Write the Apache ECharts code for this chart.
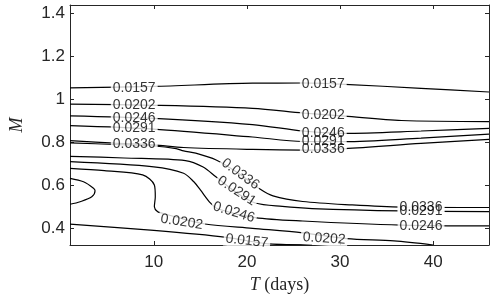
<!DOCTYPE html>
<html>
<head>
<meta charset="utf-8">
<script src="https://cdn.jsdelivr.net/npm/echarts@6/dist/echarts.min.js"></script>
<style>html,body{margin:0;padding:0;background:#fff}#c{width:500px;height:300px}</style>
</head>
<body>
<div id="c"></div>
<script>
// ---- data (T in days, M) ----
var xTicks = [10, 20, 30, 40];
var yTicks = [0.4, 0.6, 0.8, 1, 1.2, 1.4];

var c0157Upper = [[1,1.053],[10,1.060],[20.6,1.075],[26,1.076],[30.5,1.070],[38.7,1.051],[46,1.034]];
var c0202Upper = [[1,0.977],[10,0.972],[20.6,0.958],[26,0.936],[30.5,0.921],[36.6,0.901],[46,0.896]];
var c0246Upper = [[1,0.923],[10,0.911],[20.6,0.882],[26,0.852],[30.5,0.841],[38.7,0.852],[46,0.864]];
var c0291Upper = [[1,0.877],[10,0.861],[20.6,0.824],[26,0.803],[30.5,0.802],[38.7,0.819],[46,0.837]];
var c0336Upper = [[1,0.807],[5.8,0.795],[10,0.787],[13.2,0.775],[20.6,0.766],[26,0.763],[30.5,0.770],[38.7,0.794],[46,0.813]];
var c0336Lower = [[1,0.797],[5.8,0.789],[10,0.782],[12.4,0.770],[13.2,0.759],[14.5,0.749],[16.7,0.717],[19.05,0.656],[21.4,0.581],[22.8,0.549],[26,0.523],[31.3,0.507],[36.6,0.497],[46,0.495]];
var c0291Lower = [[1,0.734],[6.8,0.726],[13.4,0.714],[15.3,0.684],[16.7,0.637],[18.8,0.567],[20.9,0.516],[23.8,0.500],[27,0.490],[36.6,0.479],[46,0.476]];
var c0246Lower = [[1,0.709],[10,0.685],[13.2,0.655],[14.3,0.615],[15,0.577],[16.1,0.515],[16.9,0.488],[20.9,0.448],[26,0.432],[36.6,0.413],[46,0.409]];
var c0202Lower = [[1,0.678],[4.7,0.667],[8.8,0.647],[10.06,0.600],[10.16,0.545],[10.06,0.499],[10.42,0.475],[10.95,0.468],[13.2,0.441],[15.5,0.418],[20.6,0.398],[26,0.377],[30.7,0.350],[35.8,0.339],[40,0.320]];
var c0157Loop = [[1,0.631],[2.45,0.615],[3.52,0.585],[3.69,0.573],[3.34,0.545],[2.09,0.522],[1,0.510]];
var c0157Lower = [[1,0.417],[10,0.388],[17.8,0.356],[22.4,0.325],[27,0.321]];

// contour label anchors: [T, M, text, rotation(deg)]
var contourLabels = [
  [7.9,1.053,'0.0157',0],[28.2,1.069,'0.0157',0],
  [7.9,0.972,'0.0202',0],[28.2,0.927,'0.0202',0],
  [7.9,0.913,'0.0246',0],[28.2,0.843,'0.0246',0],
  [7.9,0.865,'0.0291',0],[28.2,0.803,'0.0291',0],
  [7.9,0.791,'0.0336',0],[28.2,0.766,'0.0336',0],
  [19.3,0.651,'0.0336',-36],[18.9,0.572,'0.0291',-33],[18.6,0.472,'0.0246',-17],
  [13.0,0.427,'0.0202',-9],[20.0,0.339,'0.0157',-6],
  [28.3,0.350,'0.0202',-4],
  [38.7,0.497,'0.0336',0],[38.7,0.476,'0.0291',0],[38.7,0.409,'0.0246',0]
];

var lines = [c0157Upper,c0202Upper,c0246Upper,c0291Upper,c0336Upper,c0336Lower,c0291Lower,c0246Lower,c0202Lower,c0157Loop,c0157Lower];

var axisColor = '#262626';
var sans = "'Liberation Sans', Arial, sans-serif";
var serif = "'Liberation Serif', 'Times New Roman', serif";
var chart = echarts.init(document.getElementById('c'), null, {renderer:'canvas'});

var series = lines.map(function(d){
  return {type:'line', data:d, showSymbol:false, symbol:'none', smooth:0.3, clip:true, z:2,
    lineStyle:{color:'#000', width:1.2}, silent:true};
});
function labelData(){ return contourLabels.map(function(l){ return {value:[l[0],l[1]], name:l[2], label:{rotate:l[3]}}; }); }
// white masks behind labels
series.push({type:'scatter', data:labelData(), symbolSize:0, z:3, silent:true,
  label:{show:true, position:'inside', formatter:function(p){return p.name;}, color:'rgba(0,0,0,0)',
    fontSize:14, fontFamily:sans, backgroundColor:'#fff', padding:[0,2,0,2]}
});
// text on top
series.push({type:'scatter', data:labelData(), symbolSize:0, z:4, silent:true,
  label:{show:true, position:'inside', formatter:function(p){return p.name;}, color:'#000',
    fontSize:14, fontFamily:sans}
});

var tickStyle = {inside:true, length:4, lineStyle:{color:axisColor}};
chart.setOption({
  animation:false,
  grid:{left:65, right:11, top:5, bottom:55, containLabel:false},
  xAxis:[
    {type:'value', min:1, max:46, position:'bottom',
     axisLine:{show:true, onZero:false, lineStyle:{color:axisColor, width:1}},
     axisTick:Object.assign({customValues:xTicks}, tickStyle),
     axisLabel:{customValues:xTicks, fontSize:17, color:axisColor, fontFamily:sans, margin:9},
     splitLine:{show:false},
     name:'{i|T} (days)', nameLocation:'middle', nameGap:30,
     nameTextStyle:{fontSize:18, color:axisColor, fontFamily:serif,
       rich:{i:{fontStyle:'italic', fontSize:18, fontFamily:serif, color:axisColor}}}},
    {type:'value', min:1, max:46, position:'top',
     axisLine:{show:true, onZero:false, lineStyle:{color:axisColor, width:1}},
     axisTick:Object.assign({customValues:xTicks}, tickStyle),
     axisLabel:{show:false}, splitLine:{show:false}}
  ],
  yAxis:[
    {type:'value', min:0.32, max:1.44, position:'left',
     axisLine:{show:true, onZero:false, lineStyle:{color:axisColor, width:1}},
     axisTick:Object.assign({customValues:yTicks}, tickStyle),
     axisLabel:{customValues:yTicks, fontSize:17, color:axisColor, fontFamily:sans, margin:5,
       formatter:function(v){return String(Math.round(v*10)/10);}},
     splitLine:{show:false},
     name:'M', nameLocation:'middle', nameGap:44, nameRotate:90,
     nameTextStyle:{fontSize:18, fontStyle:'italic', color:axisColor, fontFamily:serif}},
    {type:'value', min:0.32, max:1.44, position:'right',
     axisLine:{show:true, onZero:false, lineStyle:{color:axisColor, width:1}},
     axisTick:Object.assign({customValues:yTicks}, tickStyle),
     axisLabel:{show:false}, splitLine:{show:false}}
  ],
  series:series
});
</script>
</body>
</html>
